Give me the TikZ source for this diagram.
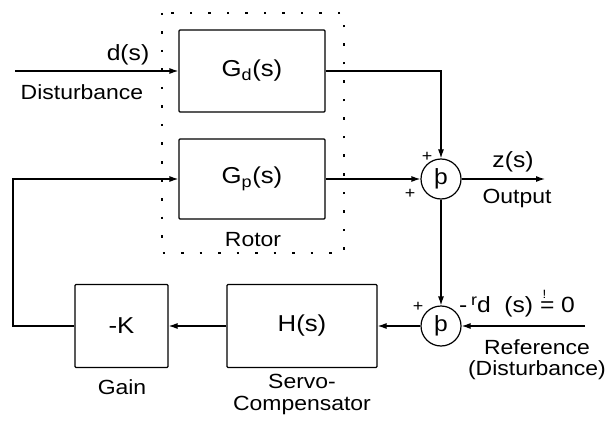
\documentclass[tikz,border=0pt]{standalone}
\usepackage{fontspec}
\setmainfont[FakeStretch=1.12]{Liberation Sans}
\usetikzlibrary{arrows.meta}
\tikzset{
  blk/.style={draw, line width=1.2pt, rounded corners=1pt, inner sep=0pt, font=\fontsize{23}{25}\selectfont},
  sumc/.style={draw, circle, line width=1.2pt, minimum size=40pt, inner sep=0pt, font=\fontsize{22}{24}\selectfont},
  sig/.style={line width=1.2pt, -{Latex[length=9pt,width=6pt]}},
  lab/.style={font=\fontsize{20.5}{22}\selectfont, inner sep=0pt, align=center},
  siglab/.style={font=\fontsize{22}{24}\selectfont, inner sep=0pt},
  pm/.style={font=\fontsize{16}{16}\selectfont, inner sep=0pt},
  dotbox/.style={line width=1.6pt, dash pattern=on 2.5pt off 16pt}
}
\begin{document}
\begin{tikzpicture}[x=1pt,y=-1pt]
\useasboundingbox (0,0) rectangle (613,425);
% rotor dotted frame
\draw[dotbox] (162,13) rectangle (344,253);
% blocks
\node[blk, minimum width=146pt, minimum height=82pt] (gd) at (252,71) {G\textsubscript{d}(s)};
\node[blk, minimum width=146pt, minimum height=80pt] (gp) at (252,179) {G\textsubscript{p}(s)};
\node[blk, minimum width=150pt, minimum height=83pt] (hb) at (302,326) {H(s)};
\node[blk, minimum width=93pt, minimum height=83pt] (kb) at (121.5,326) {-K};
\node[sumc] (s1) at (441,179) {þ};
\node[sumc] (s2) at (441,326) {þ};
% free ends
\coordinate (din) at (15,71);
\coordinate (outp) at (545,179);
\coordinate (refin) at (585,326);
\coordinate (fbx) at (13,250);
% connectors
\draw[sig] (din) -- (gd.west);
\draw[sig] (gd.east) -| (s1.north);
\draw[sig] (gp.east) -- (s1.west);
\draw[sig] (s1.east) -- (outp);
\draw[sig] (s1.south) -- (s2.north);
\draw[sig] (refin) -- (s2.east);
\draw[sig] (s2.west) -- (hb.east);
\draw[sig] (hb.west) -- (kb.east);
\draw[sig] (kb.west) -- (kb.west -| fbx) |- (gp.west);
% labels
\node[siglab] (dl) at (128,55) {d(s)};
\node[lab] (distl) at (82,92) {Disturbance};
\node[lab] (rotl) at (253,240) {Rotor};
\node[siglab] (zl) at (513,162) {z(s)};
\node[lab] (outl) at (517,198) {Output};
\node[pm] (p1) at (427,157) {+};
\node[pm] (p2) at (410,194) {+};
\node[pm] (p3) at (418,307) {+};
\node[siglab, anchor=base west] (rl) at (459,312) {-\,\raisebox{0.3em}{\fontsize{16}{16}\selectfont r}d\ \ (s) \makebox[0pt][l]{\hspace{0.12em}\raisebox{0.62em}{\fontsize{12}{12}\selectfont !}}= 0};
\node[lab, font=\fontsize{20.5}{21}\selectfont] (refl) at (537,360) {Reference\\(Disturbance)};
\node[lab] (gainl) at (122,387) {Gain};
\node[lab, font=\fontsize{20.5}{22}\selectfont] (servl) at (302,394) {Servo-\\Compensator};
\end{tikzpicture}
\end{document}
